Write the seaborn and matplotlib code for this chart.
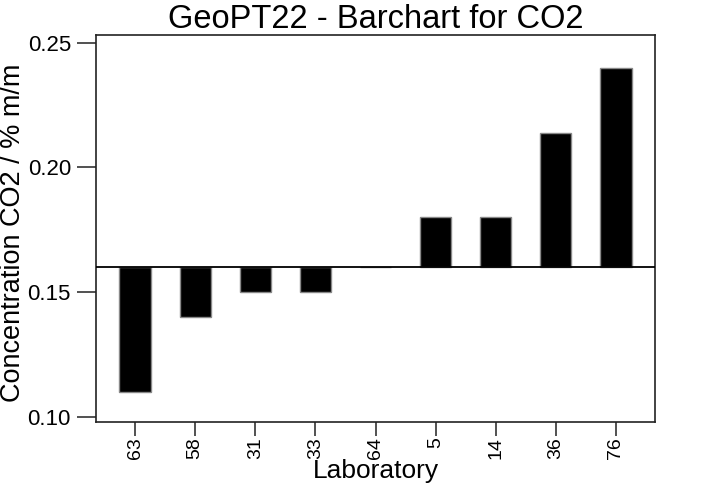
import matplotlib
matplotlib.use("Agg")
import matplotlib.pyplot as plt
import seaborn as sns
import pandas as pd

laboratories = ["63", "58", "31", "33", "64", "5", "14", "36", "76"]
concentrations = [0.11, 0.14, 0.15, 0.15, 0.16, 0.18, 0.18, 0.214, 0.24]
assigned_value = 0.16
y_ticks = [0.10, 0.15, 0.20, 0.25]
y_tick_labels = ["0.10", "0.15", "0.20", "0.25"]

sns.set_style("ticks")
plt.rcParams["font.family"] = ["Liberation Sans", "DejaVu Sans"]
plt.rcParams["text.color"] = "black"
plt.rcParams["axes.labelcolor"] = "black"
plt.rcParams["xtick.color"] = "black"
plt.rcParams["ytick.color"] = "black"

df = pd.DataFrame({
    "Laboratory": laboratories,
    "delta": [c - assigned_value for c in concentrations],
})

fig = plt.figure(figsize=(7.16, 4.95), dpi=100)
ax = fig.add_axes([96 / 716, 1 - 422 / 495, (655 - 96) / 716, (422 - 35) / 495])

sns.barplot(data=df, x="Laboratory", y="delta", order=laboratories,
            bottom=assigned_value, color="black", saturation=1,
            edgecolor="#888888", linewidth=1.0, width=0.52, ax=ax)

ax.axhline(assigned_value, color="black", linewidth=1.3, zorder=5)

ax.set_ylim(0.098, 0.2531)
ax.set_xlim(-0.65, 8.65)
ax.set_yticks(y_ticks)
ax.set_yticklabels(y_tick_labels)
ax.tick_params(axis="y", labelsize=16, length=14, width=1.2, pad=4,
               color="#333333", labelcolor="black")
ax.tick_params(axis="x", labelsize=14, length=10, width=1.2, pad=1, rotation=90,
               color="#333333", labelcolor="black")
for s in ax.spines.values():
    s.set_visible(True)
    s.set_linewidth(1.2)
    s.set_color("#222222")

ax.set_xlabel("Laboratory", fontsize=19, labelpad=0, color="black")
ax.set_ylabel("Concentration CO2 / % m/m", fontsize=19.5, color="black")
ax.yaxis.set_label_coords(-0.126, 0.49)
ax.set_title("GeoPT22 - Barchart for CO2", fontsize=23.5, pad=0, color="black")

fig.savefig("out.png", dpi=100)
